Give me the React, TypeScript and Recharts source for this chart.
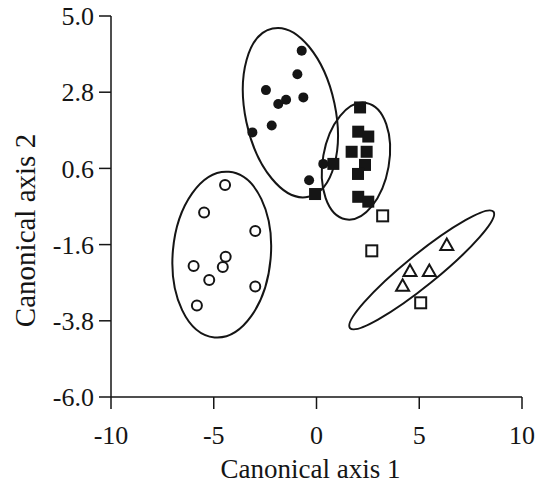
import React from 'react';
import { ScatterChart, Scatter, XAxis, YAxis, ReferenceArea, Label } from 'recharts';

const xTicks = [-10, -5, 0, 5, 10];
const yTicks = [-6.0, -3.8, -1.6, 0.6, 2.8, 5.0];

const filledCircleX = [-0.72, -0.93, -2.46, -1.48, -1.86, -0.64, -2.18, -3.12, -0.36, 0.33];
const filledCircleY = [4.0, 3.32, 2.86, 2.58, 2.46, 2.65, 1.84, 1.64, 0.26, 0.73];

const filledSquareX = [2.12, 2.03, 2.52, 1.71, 2.44, 2.36, 2.02, 0.82, -0.07, 2.03, 2.52];
const filledSquareY = [2.36, 1.66, 1.52, 1.08, 1.08, 0.7, 0.44, 0.73, -0.14, -0.22, -0.36];

const openCircleX = [-4.45, -5.47, -2.98, -4.42, -4.56, -5.98, -5.22, -2.98, -5.82];
const openCircleY = [0.12, -0.67, -1.21, -1.95, -2.25, -2.22, -2.62, -2.81, -3.36];

const openSquareX = [3.22, 2.69, 5.07];
const openSquareY = [-0.77, -1.78, -3.28];

const triangleX = [6.34, 4.55, 5.49, 4.19];
const triangleY = [-1.61, -2.36, -2.36, -2.79];

// ellipses: centre, half major axis vector (data units), minor/major ratio
const ellipseCX = [-1.27, 1.92, -4.61, 5.12];
const ellipseCY = [2.21, 0.81, -1.89, -2.33];
const ellipseDX = [-0.87, 0.5, 0.35, 3.49];
const ellipseDY = [2.43, 1.68, 2.39, 1.68];
const ellipseRatio = [0.523, 0.56, 0.59, 0.17];

const zip = (xs: number[], ys: number[]) => xs.map((x, i) => ({ x, y: ys[i] }));

const INK = '#151515';
const FONT = '"Liberation Serif", "Times New Roman", serif';

const FilledCircle = (p: any) => <circle cx={p.cx} cy={p.cy} r={5} fill={INK} />;
const FilledSquare = (p: any) => <rect x={p.cx - 6} y={p.cy - 6} width={12} height={12} fill={INK} />;
const OpenCircle = (p: any) => (
  <circle cx={p.cx} cy={p.cy} r={5} fill="#fff" stroke={INK} strokeWidth={2} />
);
const OpenSquare = (p: any) => (
  <rect x={p.cx - 5.5} y={p.cy - 5.5} width={11} height={11} fill="#fff" stroke={INK} strokeWidth={2} />
);
const Triangle = (p: any) => (
  <polygon
    points={`${p.cx},${p.cy - 6.5} ${p.cx - 6.5},${p.cy + 5} ${p.cx + 6.5},${p.cy + 5}`}
    fill="#fff"
    stroke={INK}
    strokeWidth={2}
    strokeLinejoin="miter"
  />
);

const makeEllipseShape = (i: number) => (p: any) => {
  const pxX = p.width / 2;
  const pxY = p.height / 2;
  const cx = p.x + p.width / 2;
  const cy = p.y + p.height / 2;
  const vx = ellipseDX[i] * pxX;
  const vy = -ellipseDY[i] * pxY;
  const a = Math.sqrt(vx * vx + vy * vy);
  const b = a * ellipseRatio[i];
  const ang = (Math.atan2(vy, vx) * 180) / Math.PI;
  return (
    <ellipse
      cx={cx}
      cy={cy}
      rx={a}
      ry={b}
      transform={`rotate(${ang} ${cx} ${cy})`}
      fill="none"
      stroke={INK}
      strokeWidth={2}
    />
  );
};

const YLabel = (props: any) => {
  const vb = props.viewBox || {};
  const x = (vb.x || 0) + 25;
  const y = (vb.y || 0) + (vb.height || 0) / 2 + 24;
  return (
    <text
      x={x}
      y={y}
      transform={`rotate(-90 ${x} ${y})`}
      textAnchor="middle"
      dominantBaseline="central"
      fontFamily={FONT}
      fontSize={29}
      fill={INK}
    >
      Canonical axis 2
    </text>
  );
};

export default function App() {
  return (
    <div style={{ position: 'absolute', left: 0, top: 0, background: '#fff' }}>
      <ScatterChart width={537} height={489} margin={{ top: 16, right: 15, left: 0, bottom: 0 }}>
        <XAxis
          type="number"
          dataKey="x"
          domain={[-10, 10]}
          ticks={xTicks}
          allowDataOverflow
          height={92}
          tickSize={12}
          tickMargin={17}
          axisLine={{ stroke: INK, strokeWidth: 1.5 }}
          tickLine={{ stroke: INK, strokeWidth: 1.5 }}
          tick={{ fontFamily: FONT, fontSize: 26, fill: INK }}
        >
          <Label
            value="Canonical axis 1"
            position="insideBottom"
            offset={11}
            dx={-6}
            style={{ fontFamily: FONT, fontSize: 27, fill: INK }}
          />
        </XAxis>
        <YAxis
          type="number"
          dataKey="y"
          domain={[-6, 5]}
          ticks={yTicks}
          allowDataOverflow
          width={111}
          tickSize={12}
          tickMargin={5}
          tickFormatter={(v: number) => v.toFixed(1)}
          axisLine={{ stroke: INK, strokeWidth: 1.5 }}
          tickLine={{ stroke: INK, strokeWidth: 1.5 }}
          tick={{ fontFamily: FONT, fontSize: 26, fill: INK }}
          label={<YLabel />}
        />
        {ellipseCX.map((cx, i) => (
          <ReferenceArea
            key={i}
            x1={cx - 1}
            x2={cx + 1}
            y1={ellipseCY[i] - 1}
            y2={ellipseCY[i] + 1}
            ifOverflow="visible"
            shape={makeEllipseShape(i)}
          />
        ))}
        <Scatter data={zip(openCircleX, openCircleY)} shape={OpenCircle} isAnimationActive={false} />
        <Scatter data={zip(filledCircleX, filledCircleY)} shape={FilledCircle} isAnimationActive={false} />
        <Scatter data={zip(filledSquareX, filledSquareY)} shape={FilledSquare} isAnimationActive={false} />
        <Scatter data={zip(openSquareX, openSquareY)} shape={OpenSquare} isAnimationActive={false} />
        <Scatter data={zip(triangleX, triangleY)} shape={Triangle} isAnimationActive={false} />
      </ScatterChart>
    </div>
  );
}
